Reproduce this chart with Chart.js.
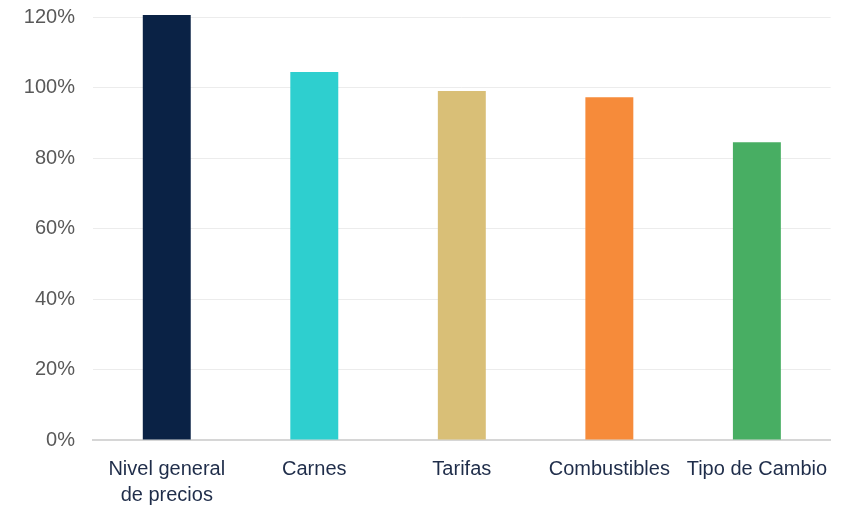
<!DOCTYPE html>
<html>
<head>
<meta charset="utf-8">
<script src="https://cdn.jsdelivr.net/npm/chart.js@4"></script>
<style>
    body { margin: 0; background: #fff; }
    #wrap { width: 844px; height: 507px; }
</style>
</head>
<body>
<div id="wrap"><canvas id="barChart"></canvas></div>
<script>
const categories = [['Nivel general', 'de precios'], 'Carnes', 'Tarifas', 'Combustibles', 'Tipo de Cambio'];
const values = [120.6, 104.4, 99.0, 97.2, 84.5];
const barColors = ['#0a2245', '#2ecfcf', '#d9bf77', '#f68b3a', '#48ae63'];
const yTicks = [0, 20, 40, 60, 80, 100, 120];

const fontFamily = "'Liberation Sans', Arial, sans-serif";

function createBarChart() {
    const ctx = document.getElementById('barChart');
    new Chart(ctx, {
        type: 'bar',
        data: {
            labels: categories,
            datasets: [{
                data: values,
                backgroundColor: barColors,
                borderWidth: 0,
                barPercentage: 0.325,
                categoryPercentage: 1,
                clip: false
            }]
        },
        options: {
            responsive: true,
            maintainAspectRatio: false,
            animation: false,
            layout: { padding: { top: 17, right: 9 } },
            plugins: {
                legend: { display: false },
                tooltip: { enabled: false }
            },
            scales: {
                x: {
                    grid: { display: false, drawTicks: false },
                    border: { color: '#d6d6d6', width: 2 },
                    ticks: {
                        color: '#1f2d4a',
                        font: { family: fontFamily, size: 20, lineHeight: 1.3 },
                        padding: 16,
                        maxRotation: 0,
                        autoSkip: false
                    },
                    afterFit: function(scale) { scale.height = 67; }
                },
                y: {
                    min: 0,
                    max: 120,
                    afterBuildTicks: function(scale) {
                        scale.ticks = yTicks.map(v => ({ value: v }));
                    },
                    grid: { color: '#ececec', drawTicks: false },
                    border: { display: false },
                    ticks: {
                        color: '#595959',
                        font: { family: fontFamily, size: 20 },
                        padding: 18,
                        callback: function(value) { return value + '%'; }
                    },
                    afterFit: function(scale) {
                        scale.width = 93;
                        scale.paddingTop = 0;
                        scale.paddingBottom = 0;
                    }
                }
            }
        }
    });
}

createBarChart();
</script>
</body>
</html>
